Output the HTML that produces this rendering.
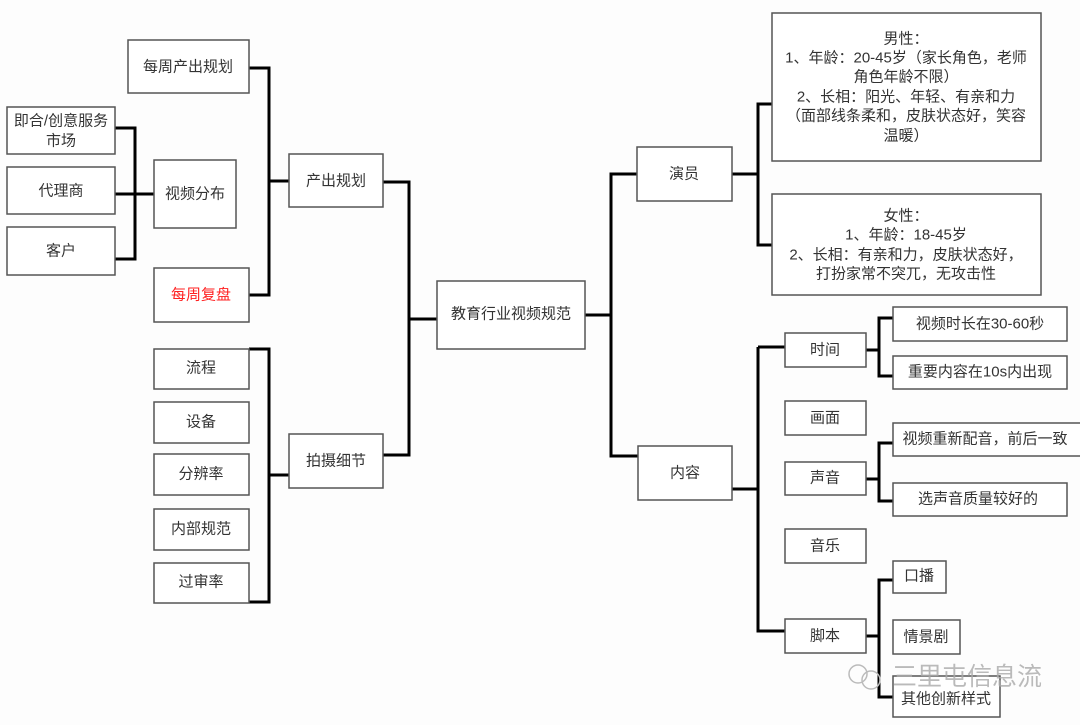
<!DOCTYPE html>
<html><head><meta charset="utf-8"><style>
html,body{margin:0;padding:0;background:#fff;}
svg{display:block;}
text{font-family:"Liberation Sans","Noto Sans CJK SC",sans-serif;font-size:15px;fill:#333;text-anchor:middle;dominant-baseline:central;}
rect{fill:#fff;stroke:#555;stroke-width:1.5;}
path{fill:none;stroke:#000;stroke-width:3;}
</style></head><body>
<svg width="1080" height="725" viewBox="0 0 1080 725">
<rect x="0" y="0" width="1080" height="725" style="fill:#fdfdfd;stroke:none"/>
<path d="M249 68H269V295H249M269 181H289"/>
<path d="M115 128H135V259H115M115 194H154"/>
<path d="M383 182H409V455H383M409 319H437"/>
<path d="M249 349H269V602H249M269 475H289"/>
<path d="M585 315H611V174H637M611 315V456H638"/>
<path d="M732 174H758V104H772M758 174V245H772"/>
<path d="M732 489H758M758 347V631H785M758 347H785"/>
<path d="M866 350H879V318H893M879 350V376H893"/>
<path d="M866 479H879V443H893M879 479V501H893"/>
<path d="M866 636H879V580H893M879 636V697H893"/>
<rect x="128" y="40" width="121" height="53"/><text x="188" y="67">每周产出规划</text>
<rect x="7" y="107" width="108" height="47"/><text x="61" y="121">即合/创意服务</text><text x="61" y="141">市场</text>
<rect x="7" y="167" width="108" height="47"/><text x="61" y="191">代理商</text>
<rect x="7" y="227" width="108" height="48"/><text x="61" y="251">客户</text>
<rect x="154" y="160" width="82" height="68"/><text x="195" y="194">视频分布</text>
<rect x="154" y="268" width="95" height="54"/><text x="201" y="295" style="fill:#f22">每周复盘</text>
<rect x="289" y="154" width="94" height="53"/><text x="336" y="181">产出规划</text>
<rect x="154" y="349" width="95" height="40"/><text x="201" y="368">流程</text>
<rect x="154" y="402" width="95" height="41"/><text x="201" y="422">设备</text>
<rect x="154" y="454" width="95" height="41"/><text x="201" y="474">分辨率</text>
<rect x="154" y="509" width="95" height="41"/><text x="201" y="529">内部规范</text>
<rect x="154" y="563" width="95" height="40"/><text x="201" y="582">过审率</text>
<rect x="289" y="434" width="94" height="54"/><text x="336" y="461">拍摄细节</text>
<rect x="437" y="281" width="148" height="68"/><text x="511" y="314">教育行业视频规范</text>
<rect x="637" y="147" width="95" height="54"/><text x="684" y="174">演员</text>
<rect x="638" y="446" width="94" height="54"/><text x="685" y="473">内容</text>
<rect x="772" y="13" width="269" height="148"/>
<text x="906" y="39">男性：</text>
<text x="906" y="58">1、年龄：20-45岁（家长角色，老师</text>
<text x="906" y="77">角色年龄不限）</text>
<text x="906" y="97">2、长相：阳光、年轻、有亲和力</text>
<text x="906" y="116">（面部线条柔和，皮肤状态好，笑容</text>
<text x="906" y="136">温暖）</text>
<rect x="772" y="194" width="269" height="101"/>
<text x="906" y="216">女性：</text>
<text x="906" y="235">1、年龄：18-45岁</text>
<text x="906" y="255">2、长相：有亲和力，皮肤状态好，</text>
<text x="906" y="274">打扮家常不突兀，无攻击性</text>
<rect x="785" y="333" width="81" height="34"/><text x="825" y="350">时间</text>
<rect x="893" y="307" width="174" height="34"/><text x="980" y="324">视频时长在30-60秒</text>
<rect x="893" y="356" width="174" height="33"/><text x="980" y="372">重要内容在10s内出现</text>
<rect x="785" y="401" width="81" height="34"/><text x="825" y="418">画面</text>
<rect x="893" y="423" width="195" height="33"/><text x="985" y="439">视频重新配音，前后一致</text>
<rect x="785" y="462" width="81" height="33"/><text x="825" y="478">声音</text>
<rect x="893" y="483" width="174" height="33"/><text x="978" y="499">选声音质量较好的</text>
<rect x="785" y="529" width="81" height="34"/><text x="825" y="546">音乐</text>
<rect x="893" y="561" width="53" height="32"/><text x="919" y="576">口播</text>
<rect x="893" y="620" width="67" height="34"/><text x="926" y="637">情景剧</text>
<rect x="785" y="619" width="81" height="34"/><text x="825" y="636">脚本</text>
<rect x="893" y="676" width="107" height="41"/><text x="946" y="699">其他创新样式</text>
<text x="967" y="677" style="font-size:25px;fill:#aaa;opacity:0.8">三里屯信息流</text>
<circle cx="858" cy="674" r="9" style="fill:none;stroke:#bbb;stroke-width:1.5"/>
<circle cx="871" cy="680" r="9" style="fill:none;stroke:#bbb;stroke-width:1.5"/>
</svg>
</body></html>
